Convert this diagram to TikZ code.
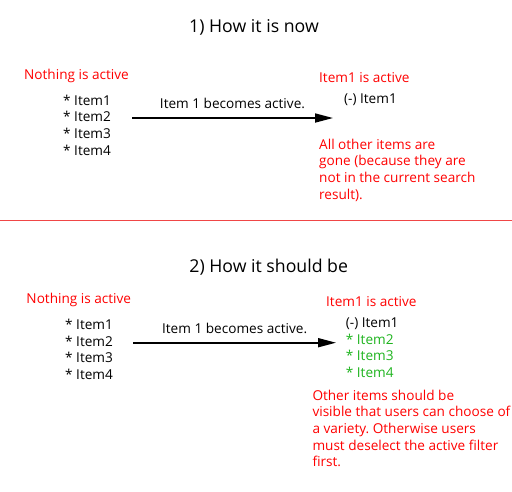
\documentclass[tikz,border=0pt]{standalone}
\usepackage{fontspec}
\setmainfont{Open Sans}
\usetikzlibrary{arrows.meta}
\definecolor{txtred}{RGB}{255,0,0}
\definecolor{txtgreen}{RGB}{30,180,30}
\definecolor{linered}{RGB}{240,70,70}
\frenchspacing
\begin{document}
\begin{tikzpicture}[x=1pt,y=-1pt,
  txt/.style={inner sep=0pt, anchor=base west, align=left,
    font=\fontsize{13.6}{16.7}\selectfont},
  titletxt/.style={inner sep=0pt, anchor=base, font=\fontsize{17.7}{20}\selectfont},
  arr/.style={line width=1.7pt, -{Triangle[length=18pt,width=9pt]}},
  lab/.style={inner sep=0pt, font=\fontsize{13.6}{16.7}\selectfont}
]
\useasboundingbox (0,0) rectangle (512,491);
\fill[white] (0,0) rectangle (512,491);

% ---------- part 1 ----------
% multi-line nodes: base anchor is the baseline of the last line
\node[titletxt] (t1) at (254,32.3) {1) How it is now};
\node[txt,text=txtred] (n1) at (24,79.3) {Nothing is active};
\node[txt] (l1) at (63,155.1) {* Item1\\* Item2\\* Item3\\* Item4};
\coordinate (s1) at (132,118);
\coordinate (e1) at (333,118);
\draw[arr] (s1) -- (e1) node[lab, midway, above=8pt] (a1) {Item 1 becomes active.};
\node[txt,text=txtred] (r1) at (319,82) {Item1 is active};
\node[txt] (i1) at (344,103.3) {(-) Item1};
\node[txt,text=txtred] (p1) at (319,199.1) {All other items are\\gone (because they are\\not in the current search\\result).};

\coordinate (hl) at (0,220.3);
\coordinate (hr) at (512,220.3);
\draw[linered, line width=1.5pt] (hl) -- (hr);

% ---------- part 2 ----------
\node[titletxt] (t2) at (268.7,272.3) {2) How it should be};
\node[txt,text=txtred] (n2) at (26.3,303.3) {Nothing is active};
\node[txt] (l2) at (65,379.4) {* Item1\\* Item2\\* Item3\\* Item4};
\coordinate (s2) at (133.3,342.7);
\coordinate (e2) at (336,342.7);
\draw[arr] (s2) -- (e2) node[lab, midway, above=8pt] (a2) {Item 1 becomes active.};
\node[txt,text=txtred] (r2) at (326,306) {Item1 is active};
\node[txt] (i2) at (345.7,327.3) {(-) Item1};
\node[txt,text=txtgreen] (g2) at (345.7,377.4) {* Item2\\* Item3\\* Item4};
\node[txt,text=txtred] (p2) at (312.3,466.8) {Other items should be\\visible that users can choose of\\a variety. Otherwise users\\must deselect the active filter\\first.};
\end{tikzpicture}
\end{document}
